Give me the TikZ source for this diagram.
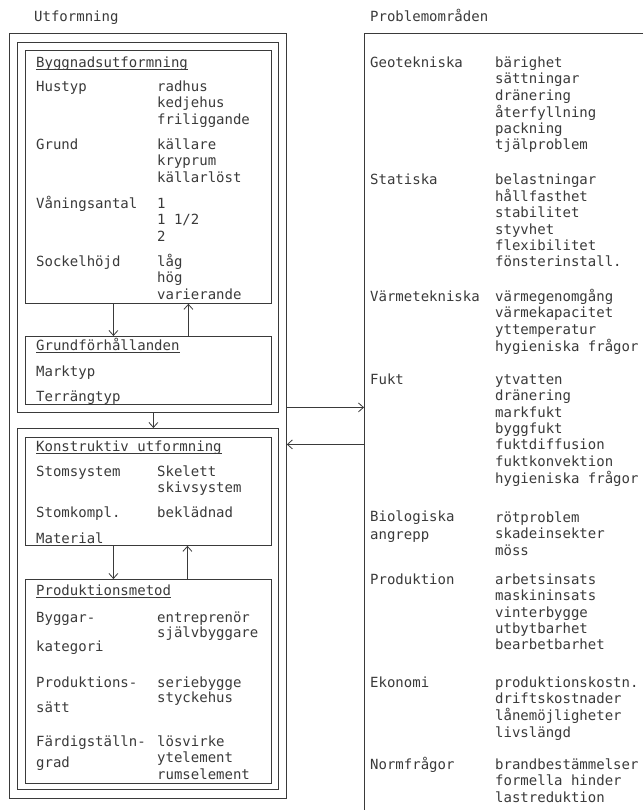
\documentclass[tikz,border=0pt]{standalone}
\usepackage{fontspec}
\setmonofont{DejaVu Sans Mono}
\usepackage{xcolor}
\usepackage{tikz}
\usetikzlibrary{arrows.meta}
\definecolor{ink}{HTML}{3a3a3a}
% list of words, hung from the baseline of its first line
\newcommand{\lista}[1]{\begin{tabular}[t]{@{}l@{}}#1\end{tabular}}
\tikzset {
  % framed boxes, placed by their upper left corner
  ram/.style = {draw=ink, line width=0.8pt, inner sep=0pt, anchor=north west},
  % typewriter text, placed on its baseline
  txt/.style = {text=ink, font=\ttfamily\fontsize{14}{16.3}\selectfont, inner sep=0pt, anchor=base west},
  tett/.style = {font=\ttfamily\fontsize{14}{15}\selectfont},
  linje/.style = {draw=ink, line width=0.8pt},
  ul/.style = {draw=ink, line width=0.7pt},
  pil/.style = {draw=ink, line width=0.8pt, -{Straight Barb[length=5pt, width=9pt]}},
}

\begin{document}
\begin{tikzpicture}[x=1pt, y=-1pt]
        \useasboundingbox (0,0) rectangle (643,810);
        \fill[white] (0,0) rectangle (643,810);

        \node[txt] (utf-t) at (34,22) {Utformning};
        \node[txt] (prob-t) at (370,22) {Problemområden};

        % boxes on the left
        \node[ram, minimum width=277pt, minimum height=765pt] (utf) at (9,33) {};
        \node[ram, minimum width=261pt, minimum height=370pt] (del1) at (17,42) {};
        \node[ram, minimum width=246pt, minimum height=253pt] (bygg) at (25,50) {};
        \node[ram, minimum width=246pt, minimum height=68pt] (grund) at (25,336) {};
        \node[ram, minimum width=261pt, minimum height=361pt] (del2) at (17,428) {};
        \node[ram, minimum width=246pt, minimum height=108pt] (konstr) at (25,437) {};
        \node[ram, minimum width=246pt, minimum height=204pt] (prod) at (25,579) {};

        % open frame on the right
        \coordinate (prob) at (364,33);
        \draw[linje] (643,33) -- (prob) -- (364,810);

        \node[txt] (bygg-t) at (36,67.5) {Byggnadsutformning};
        \node[txt] (hustyp) at (36,91.5) {Hustyp};
        \node[txt] (hustyp-v) at (157,91.5) {\lista{radhus\\kedjehus\\friliggande}};
        \node[txt] (grundtyp) at (36,149.5) {Grund};
        \node[txt] (grundtyp-v) at (157,149.5) {\lista{källare\\kryprum\\källarlöst}};
        \node[txt] (vaning) at (36,208.5) {Våningsantal};
        \node[txt] (vaning-v) at (157,208.5) {\lista{1\\1 1/2\\2}};
        \node[txt] (sockel) at (36,266.5) {Sockelhöjd};
        \node[txt] (sockel-v) at (157,266.5) {\lista{låg\\hög\\varierande}};

        \node[txt] (grund-t) at (36,350.5) {Grundförhållanden};
        \node[txt] (marktyp) at (36,376.5) {Marktyp};
        \node[txt] (terrang) at (36,401.5) {Terrängtyp};

        \node[txt] (konstr-t) at (36,451.5) {Konstruktiv utformning};
        \node[txt] (stom) at (36,476.5) {Stomsystem};
        \node[txt] (stom-v) at (157,476.5) {\lista{Skelett\\skivsystem}};
        \node[txt] (kompl) at (36,517.5) {Stomkompl.};
        \node[txt] (kompl-v) at (157,517.5) {beklädnad};
        \node[txt] (material) at (36,543) {Material};

        \node[txt] (prod-t) at (36,595.5) {Produktionsmetod};
        \node[txt] (byggare) at (36,622.5) {Byggar-};
        \node[txt] (kategori) at (36,651.5) {kategori};
        \node[txt, tett] (byggare-v) at (157,622.5) {\lista{entreprenör\\självbyggare}};
        \node[txt] (satt1) at (36,687.5) {Produktions-};
        \node[txt] (satt2) at (36,712.5) {sätt};
        \node[txt, tett] (satt-v) at (157,687.5) {\lista{seriebygge\\styckehus}};
        \node[txt] (grad1) at (36,746.5) {Färdigställn-};
        \node[txt] (grad2) at (36,767) {grad};
        \node[txt] (grad-v) at (157,746.5) {\lista{lösvirke\\ytelement\\rumselement}};

        \draw[ul] ([yshift=-2pt]bygg-t.base west) -- ([yshift=-2pt]bygg-t.base east);
        \draw[ul] ([yshift=-2pt]grund-t.base west) -- ([yshift=-2pt]grund-t.base east);
        \draw[ul] ([yshift=-2pt]konstr-t.base west) -- ([yshift=-2pt]konstr-t.base east);
        \draw[ul] ([yshift=-2pt]prod-t.base west) -- ([yshift=-2pt]prod-t.base east);

        \node[txt] (geo) at (370,67.5) {Geotekniska};
        \node[txt] (geo-v) at (495,67.5) {\lista{bärighet\\sättningar\\dränering\\återfyllning\\packning\\tjälproblem}};
        \node[txt] (stat) at (370,184.5) {Statiska};
        \node[txt] (stat-v) at (495,184.5) {\lista{belastningar\\hållfasthet\\stabilitet\\styvhet\\flexibilitet\\fönsterinstall.}};
        \node[txt] (varme) at (370,301.5) {Värmetekniska};
        \node[txt] (varme-v) at (495,301.5) {\lista{värmegenomgång\\värmekapacitet\\yttemperatur\\hygieniska frågor}};
        \node[txt] (fukt) at (370,384.5) {Fukt};
        \node[txt] (fukt-v) at (495,384.5) {\lista{ytvatten\\dränering\\markfukt\\byggfukt\\fuktdiffusion\\fuktkonvektion\\hygieniska frågor}};
        \node[txt] (bio1) at (370,521.5) {Biologiska};
        \node[txt] (bio2) at (370,539.5) {angrepp};
        \node[txt] (bio-v) at (495,522.5) {\lista{rötproblem\\skadeinsekter\\möss}};
        \node[txt] (produktion) at (370,584.5) {Produktion};
        \node[txt] (produktion-v) at (495,584.5) {\lista{arbetsinsats\\maskininsats\\vinterbygge\\utbytbarhet\\bearbetbarhet}};
        \node[txt] (ekonomi) at (370,687.5) {Ekonomi};
        \node[txt] (ekonomi-v) at (495,687.5) {\lista{produktionskostn.\\driftskostnader\\lånemöjligheter\\livslängd}};
        \node[txt] (norm) at (370,769.5) {Normfrågor};
        \node[txt] (norm-v) at (495,769.5) {\lista{brandbestämmelser\\formella hinder\\lastreduktion}};

        \draw[pil] ([xshift=-35pt]bygg.south) -- ([xshift=-35pt]grund.north);
        \draw[pil] ([xshift=40pt]grund.north) -- ([xshift=40pt]bygg.south);
        \draw[pil] ([xshift=5.5pt]del1.south) -- ([xshift=5.5pt]del2.north);
        \draw[pil] ([xshift=-35pt]konstr.south) -- ([xshift=-35pt]prod.north);
        \draw[pil] ([xshift=39pt]prod.north) -- ([xshift=39pt]konstr.south);

        \coordinate (pil-ut) at ([yshift=8.5pt]utf.east);
        \coordinate (pil-in) at ([yshift=-28.5pt]utf.east);
        \draw[pil] (pil-ut) -- (pil-ut -| prob);
        \draw[pil] (pil-in -| prob) -- (pil-in);
      \end{tikzpicture}
\end{document}
